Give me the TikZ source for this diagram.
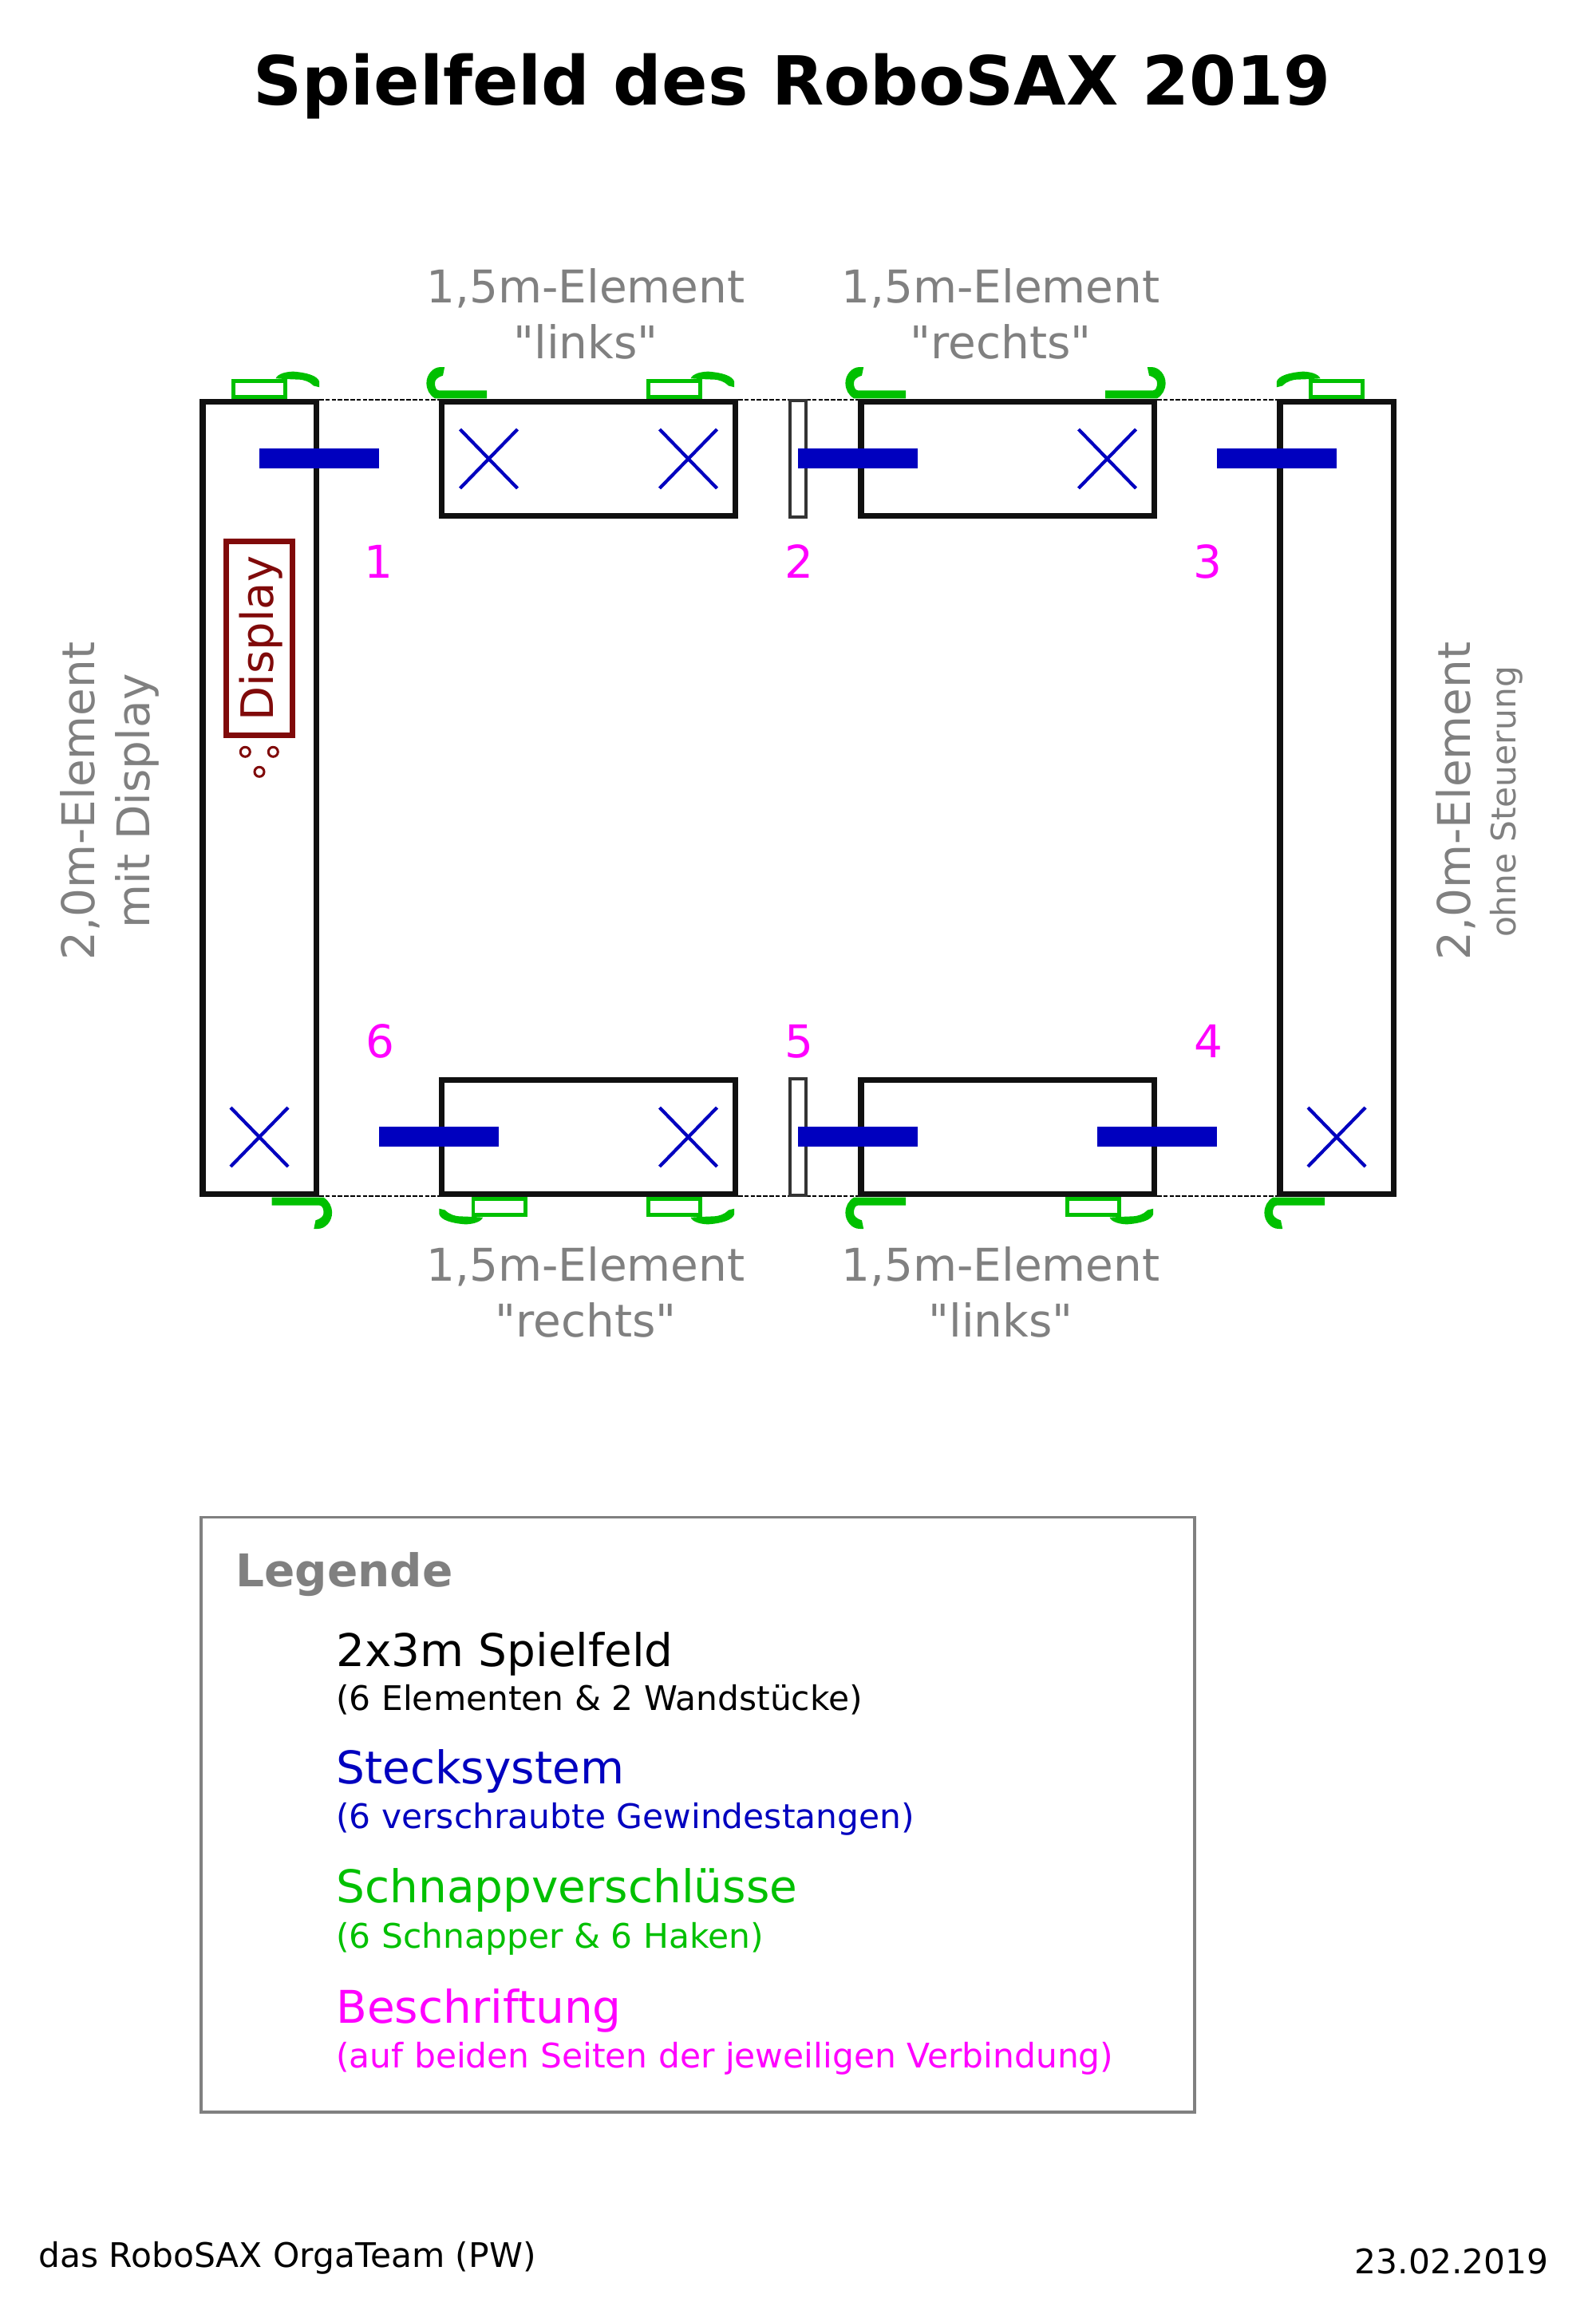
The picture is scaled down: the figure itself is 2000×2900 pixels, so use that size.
\documentclass[tikz,border=0pt]{standalone}
\usepackage{fontspec}
\setmainfont{DejaVu Sans}
\newfontfamily\plainf{DejaVu Sans}
\definecolor{bl}{HTML}{0000BF}
\definecolor{gn}{HTML}{00C000}
\definecolor{gr}{HTML}{808080}
\definecolor{mg}{HTML}{FF00FF}
\definecolor{dr}{HTML}{800A0A}
\definecolor{bk}{HTML}{101010}
\newcommand{\fs}[1]{\fontsize{#1}{#1}\selectfont}
\tikzset{
 elem/.style={draw=bk,line width=3.6pt,fill=white},
 slim/.style={draw=bk!85,line width=1.8pt,fill=white},
 rod/.style={fill=bl},
 cross/.style={draw=bl,line width=2.1pt},
 snaprect/.style={draw=gn,line width=2.3pt,fill=white},
 hookfill/.style={fill=gn},
 dots/.style={draw=black,line width=1pt,dash pattern=on 2.75pt off 1.15pt},
 glabel/.style={text=gr,align=center,font=\plainf\fontsize{28.25}{35}\selectfont},
 num/.style={text=mg,font=\fs{28.25}},
 leg/.style={anchor=base west,inner sep=0pt},
}
\newcommand{\crossat}[2]{\draw[cross] (#1-36,#2-37) -- (#1+36,#2+37) (#1-36,#2+37) -- (#1+36,#2-37);}
\newcommand{\hookA}[3]{\fill[hookfill,shift={(#1,#2)},#3] (-14.5,-25.7) .. controls (-12,-32) and (0,-34.5) .. (8.2,-34.3) .. controls (25,-33) and (38,-29) .. (40.2,-21.7) -- (40.2,-14.7) -- (33,-16.5) .. controls (28,-22) and (20,-24) .. (15.5,-24.3) -- (-3,-25) -- cycle;}
\newcommand{\hookB}[3]{\fill[hookfill,shift={(#1,#2)},#3] (0,-10.7) -- (0,-0.7) -- (-65,-0.7) .. controls (-72,-5) and (-75.6,-12) .. (-75.6,-20) .. controls (-75.6,-30) and (-68,-40) .. (-57.6,-40) -- (-52.8,-40) -- (-55,-29.3) .. controls (-62,-27) and (-65,-24) .. (-65,-20) .. controls (-65,-16) and (-64,-11) .. (-60,-10.7) -- cycle;}
\begin{document}
\begin{tikzpicture}[x=0.5pt,y=-0.5pt]
\useasboundingbox (0,0) rectangle (2000,2900);
\node (title) at (992.5,108) {\fs{42.4}\bfseries Spielfeld des RoboSAX 2019};
% dotted
\foreach \yy in {501,1499}{
 \draw[dots] (400,\yy) -- (550,\yy) (925,\yy) -- (990,\yy) (1010,\yy) -- (1075,\yy) (1450,\yy) -- (1600,\yy);
}
% elements
\draw[elem] (254,503.5) rectangle (396.5,1496.5);
\draw[elem] (1604,503.5) rectangle (1746.5,1496.5);
\draw[elem] (553.5,503.5) rectangle (921.5,646.5);
\draw[elem] (1079,503.5) rectangle (1446.5,646.5);
\draw[elem] (553.5,1353.5) rectangle (921.5,1496.5);
\draw[elem] (1079,1353.5) rectangle (1446.5,1496.5);
\draw[slim] (990,502) rectangle (1010,648);
\draw[slim] (990,1352) rectangle (1010,1498);
% rods
\foreach \xa/\yy in {325/562.3,1000/562.3,1525/562.3,475/1412,1000/1412,1375/1412}{
 \fill[rod] (\xa,\yy) rectangle ++(150,25);
}
% crosses
\crossat{612.5}{575}\crossat{862.5}{575}\crossat{1387.5}{575}
\crossat{325}{1425}\crossat{862.5}{1425}\crossat{1675}{1425}
% snap rects
\foreach \xa/\yy in {292.3/477.3,812.3/477.3,1642.3/477.3,592.9/1502.3,812.3/1502.3,1337.3/1502.3}{
 \draw[snaprect] (\xa,\yy) rectangle ++(65.4,20.4);
}
% hooks
\hookA{360}{500}{}
\hookA{880}{500}{}
\hookA{1640}{500}{xscale=-1}
\hookA{590.6}{1500}{xscale=-1,yscale=-1}
\hookA{880}{1500}{yscale=-1}
\hookA{1405}{1500}{yscale=-1}
\hookB{610}{500}{}
\hookB{1135}{500}{}
\hookB{1385}{500}{xscale=-1}
\hookB{340.5}{1500}{xscale=-1,yscale=-1}
\hookB{1135}{1500}{yscale=-1}
\hookB{1660}{1500}{yscale=-1}
% display
\draw[draw=dr,line width=3.5pt] (283.5,678.5) rectangle (366.5,921.5);
\node[rotate=90,text=dr] (disp) at (327,800) {\fs{28}Display};
\foreach \xx/\yy in {307.3/942.3,342.3/942.3,325/967.3}{
 \draw[dr,line width=1.5pt] (\xx,\yy) circle (6);
}
% labels
\node[glabel] (l1) at (734,393) {1,5m-Element\\"links"};
\node[glabel] (l2) at (1254,393) {1,5m-Element\\"rechts"};
\node[glabel] (l3) at (734,1619) {1,5m-Element\\"rechts"};
\node[glabel] (l4) at (1254,1619) {1,5m-Element\\"links"};
\node[rotate=90,text=gr,font=\fs{28.25}] (l5) at (100,1004) {2,0m-Element};
\node[rotate=90,text=gr,font=\fs{28.25}] (l6) at (172,1004) {mit Display};
\node[rotate=90,text=gr,font=\fs{28.25}] (l7) at (1824,1004) {2,0m-Element};
\node[rotate=90,text=gr,font=\fs{21.2}] (l8) at (1888,1005) {ohne Steuerung};
% numbers
\node[num] (n1) at (474.5,704) {1};
\node[num] (n2) at (1001.5,704) {2};
\node[num] (n3) at (1513.5,704) {3};
\node[num] (n6) at (476.5,1305) {6};
\node[num] (n5) at (1001.5,1305) {5};
\node[num] (n4) at (1514.5,1305) {4};
% legend
\draw[draw=gr,line width=1.7pt] (252,1901.5) rectangle (1497,2647);
\node[leg,text=gr] (lg) at (295,1988) {\fs{28.25}\bfseries Legende};
\node[leg,text=black] (a1) at (421,2088) {\fs{28.25}2x3m Spielfeld};
\node[leg,text=black] (a2) at (421,2143) {\fs{21.2}(6 Elementen \& 2 Wandstücke)};
\node[leg,text=bl] (b1) at (421,2235) {\fs{28.25}Stecksystem};
\node[leg,text=bl] (b2) at (421,2291) {\fs{21.2}(6 verschraubte Gewindestangen)};
\node[leg,text=gn] (c1) at (421,2384) {\fs{28.25}Schnappverschlüsse};
\node[leg,text=gn] (c2) at (421,2441) {\fs{21.2}(6 Schnapper \& 6 Haken)};
\node[leg,text=mg] (d1) at (421,2535) {\fs{28.25}Beschriftung};
\node[leg,text=mg] (d2) at (421,2591) {\fs{21.2}(auf beiden Seiten der jeweiligen Verbindung)};
% footer
\node[leg,text=black] (f1) at (48,2841) {\fs{21.2}das RoboSAX OrgaTeam (PW)};
\node[anchor=base east,inner sep=0pt,text=black] (f2) at (1941,2849) {\fs{21.2}23.02.2019};
\end{tikzpicture}
\end{document}
